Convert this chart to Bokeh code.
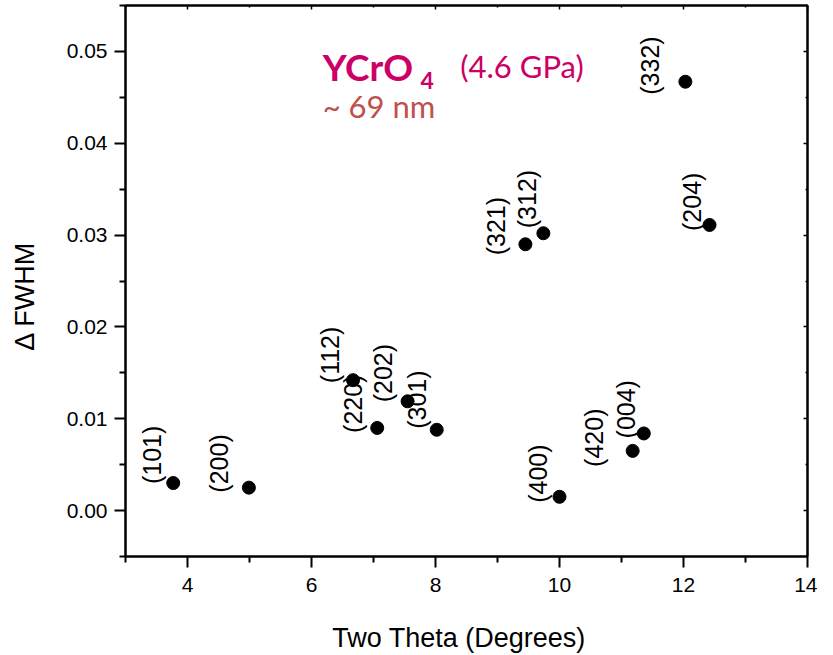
import math
from bokeh.plotting import figure
from bokeh.models import Range1d, LinearAxis, Label, ColumnDataSource, FixedTicker
from bokeh.core.properties import value
from bokeh.embed import file_html
from bokeh.resources import INLINE

# ---- data ----
reflections = ["(101)", "(200)", "(112)", "(220)", "(202)", "(301)", "(400)",
               "(420)", "(004)", "(321)", "(312)", "(332)", "(204)"]
two_theta = [3.77, 4.99, 6.67, 7.06, 7.55, 8.02, 10.00, 11.18, 11.36, 9.45, 9.74, 12.03, 12.42]
delta_fwhm = [0.0030, 0.0025, 0.0142, 0.0090, 0.0119, 0.0088, 0.0015,
              0.0065, 0.0084, 0.0290, 0.0302, 0.0467, 0.0311]
# label offsets in screen pixels (label centre x, label start y) relative to the point
label_dx = [-21, -30, -23, -24, -25, -20, -22, -39, -18, -29, -16, -35, -18]
label_dy = [1, 5, 3, 5, 1, -1, 6, 16, 5, 11, -5, 13, 6]

x_ticks = [4, 6, 8, 10, 12, 14]
x_minor = [3, 5, 7, 9, 11, 13]
y_ticks = [0.00, 0.01, 0.02, 0.03, 0.04, 0.05]
y_tick_labels = ["0.00", "0.01", "0.02", "0.03", "0.04", "0.05"]
y_minor = [-0.005, 0.005, 0.015, 0.025, 0.035, 0.045, 0.055]

FONT = "Liberation Sans"
NBSP = "\u00a0"

p = figure(width=817, height=655, output_backend="svg", toolbar_location=None,
           x_range=Range1d(3, 14), y_range=Range1d(-0.005, 0.055),
           min_border_left=125, min_border_right=10, min_border_top=5, min_border_bottom=99)
p.background_fill_color = "white"
p.border_fill_color = "white"
p.outline_line_color = "black"
p.outline_line_width = 2
p.xgrid.visible = False
p.ygrid.visible = False

xa = p.xaxis[0]
xa.ticker = FixedTicker(ticks=x_ticks, minor_ticks=x_minor)
ya = p.yaxis[0]
ya.ticker = FixedTicker(ticks=y_ticks, minor_ticks=y_minor)
ya.major_label_overrides = {t: l for t, l in zip(y_ticks, y_tick_labels)}
for ax in (xa, ya):
    ax.axis_line_width = 2
    ax.major_tick_line_width = 2
    ax.minor_tick_line_width = 2
    ax.major_tick_out = 11
    ax.major_tick_in = 0
    ax.minor_tick_out = 6
    ax.minor_tick_in = 0
    ax.major_label_text_font = FONT
    ax.major_label_text_font_size = "21px"
    ax.major_label_text_color = "black"
    ax.axis_label_text_font = FONT
    ax.axis_label_text_font_size = "27px"
    ax.axis_label_text_font_style = "normal"
    ax.axis_label_text_color = "black"
xa.axis_label = "Two Theta (Degrees)" + NBSP * 2
ya.axis_label = "\u0394 FWHM" + NBSP * 4
xa.major_label_standoff = 10
xa.axis_label_standoff = 28
ya.major_label_standoff = 7
ya.axis_label_standoff = 24

for loc in ("above", "right"):
    tk = x_ticks if loc == "above" else y_ticks
    ax = LinearAxis(ticker=FixedTicker(ticks=tk,
                                       minor_ticks=x_minor if loc == "above" else y_minor))
    ax.axis_line_width = 2
    ax.major_tick_in = 4
    ax.major_tick_out = 0
    ax.minor_tick_in = 2
    ax.minor_tick_out = 0
    ax.major_tick_line_width = 1.5
    ax.minor_tick_line_width = 1.5
    ax.major_label_overrides = {t: "" for t in tk}
    ax.major_label_standoff = 0
    p.add_layout(ax, loc)

src = ColumnDataSource(dict(x=two_theta, y=delta_fwhm, t=reflections, dx=label_dx, dy=label_dy))
p.scatter("x", "y", source=src, size=13, color="black")
p.text("x", "y", text="t", source=src, angle=math.pi / 2, x_offset="dx", y_offset="dy",
       text_align="left", text_baseline="middle", text_font=value(FONT),
       text_font_size="25px", text_color="black")

TFONT = "Lato"
p.add_layout(Label(x=6.18, y=0.0484, text="YCrO", text_font=TFONT, text_font_size="37px",
                   text_font_style="bold", text_color="#CC0066", text_baseline="alphabetic"))
p.add_layout(Label(x=7.76, y=0.0468, text="4", text_font=TFONT, text_font_size="23px",
                   text_font_style="bold", text_color="#CC0066", text_baseline="alphabetic"))
p.add_layout(Label(x=8.40, y=0.0484, text="(4.6 GPa)", text_font=TFONT, text_font_size="31px",
                   text_color="#CC0066", text_baseline="alphabetic"))
p.add_layout(Label(x=6.18, y=0.0441, text="~ 69 nm", text_font=TFONT, text_font_size="31px",
                   text_color="#C0504D", text_baseline="alphabetic"))

open("out.html", "w").write(file_html(p, INLINE))
